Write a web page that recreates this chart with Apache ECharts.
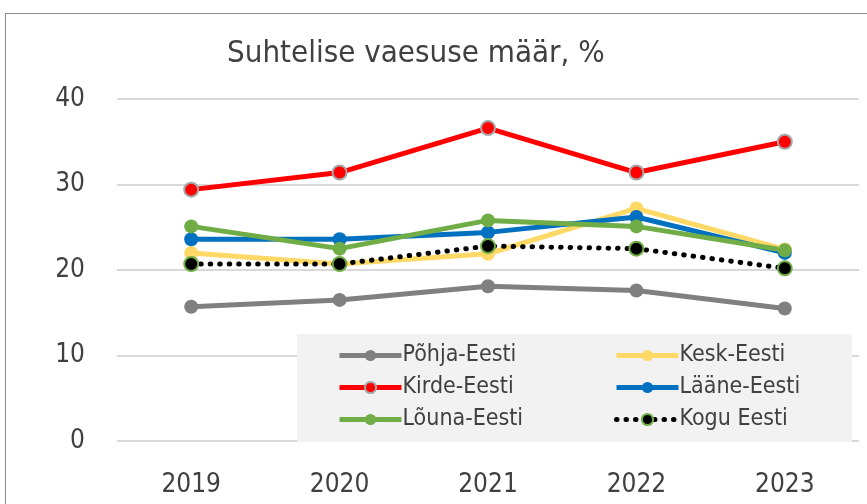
<!DOCTYPE html>
<html lang="et">
<head>
  <meta charset="utf-8">
  <title>Suhtelise vaesuse määr</title>
  <script src="https://cdn.jsdelivr.net/npm/echarts@6/dist/echarts.min.js"></script>
  <style>
    html, body { margin: 0; padding: 0; background: #fff; overflow: hidden; }
    .frame {
      position: absolute; left: 5px; top: 13px;
      width: 900px; height: 600px;
      border: 1.5px solid #8a8a8a;
    }
    #chart { position: absolute; left: 0; top: 0; width: 867px; height: 504px; }
  </style>
</head>
<body>
  <div class="frame"></div>
  <div id="chart"></div>
  <script>
    var years = ['2019', '2020', '2021', '2022', '2023'];
    var pohja = [15.7, 16.5, 18.1, 17.6, 15.5];
    var kesk = [22.0, 20.7, 21.9, 27.2, 22.4];
    var kirde = [29.4, 31.4, 36.6, 31.4, 35.0];
    var laane = [23.6, 23.6, 24.4, 26.2, 22.0];
    var louna = [25.1, 22.5, 25.8, 25.1, 22.3];
    var kogu = [20.7, 20.7, 22.8, 22.5, 20.2];

    var font = '"DejaVu Sans Condensed", "Liberation Sans Narrow", sans-serif';

    function line(name, data, color, extra) {
      var s = {
        name: name,
        type: 'line',
        data: data,
        symbol: 'circle',
        symbolSize: 14,
        lineStyle: { color: color, width: 5 },
        itemStyle: { color: color },
        z: 3
      };
      for (var k in extra) s[k] = extra[k];
      return s;
    }

    // legend look shared by both columns
    function legendCol(names, left) {
      return {
        data: names,
        orient: 'vertical',
        left: left, top: 339,
        itemWidth: 62, itemHeight: 14, itemGap: 9,
        lineStyle: { width: 5 },
        textStyle: { fontFamily: font, fontSize: 23, color: '#404040', padding: [0, 0, 0, -4] },
        z: 5
      };
    }

    var chart = echarts.init(document.getElementById('chart'));
    chart.setOption({
      animation: false,
      textStyle: { fontFamily: font },
      title: {
        text: 'Suhtelise vaesuse määr, %',
        left: 222, top: 33,
        textStyle: { fontFamily: font, fontSize: 31, fontWeight: 'normal', color: '#404040' }
      },
      graphic: [{
        type: 'rect',
        shape: { x: 297, y: 334, width: 555, height: 108 },
        style: { fill: '#f2f2f2' },
        z: 1
      }],
      legend: [
        legendCol(['Põhja-Eesti', 'Kirde-Eesti', 'Lõuna-Eesti'], 332),
        legendCol(['Kesk-Eesti', 'Lääne-Eesti', 'Kogu Eesti'], 609)
      ],
      grid: { left: 117, right: 8, top: 99, bottom: 63 },
      xAxis: {
        type: 'category',
        data: years,
        axisLine: { show: false },
        axisTick: { show: false },
        axisLabel: { fontFamily: font, fontSize: 26, color: '#404040', margin: 31 }
      },
      yAxis: {
        type: 'value',
        min: 0, max: 40, interval: 10,
        axisLabel: { fontFamily: font, fontSize: 26, color: '#404040', margin: 32 },
        splitLine: { lineStyle: { color: '#d9d9d9', width: 2 } }
      },
      series: [
        line('Põhja-Eesti', pohja, '#808080'),
        line('Kesk-Eesti', kesk, '#ffd966'),
        line('Kirde-Eesti', kirde, '#ff0000', {
          itemStyle: { color: '#ff0000', borderColor: '#a6a6a6', borderWidth: 2 }
        }),
        line('Lääne-Eesti', laane, '#0070c0'),
        line('Lõuna-Eesti', louna, '#70ad47'),
        line('Kogu Eesti', kogu, '#000000', {
          lineStyle: { color: '#000000', width: 5, type: [0.5, 9], cap: 'round' },
          itemStyle: { color: '#000000', borderColor: '#70ad47', borderWidth: 2 }
        })
      ]
    });
  </script>
</body>
</html>
